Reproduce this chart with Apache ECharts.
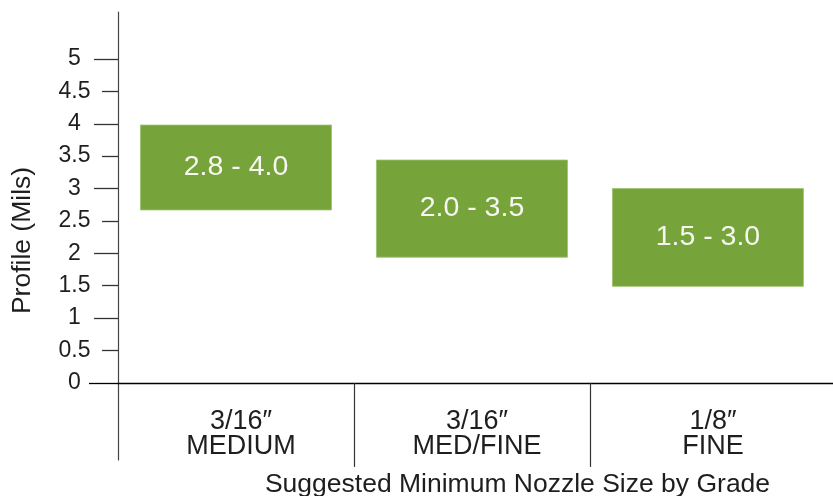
<!DOCTYPE html>
<html>
<head>
<meta charset="utf-8">
<script src="https://cdn.jsdelivr.net/npm/echarts@6/dist/echarts.min.js"></script>
<style>
html,body{margin:0;padding:0;background:#fff;}
#c{width:833px;height:496px;}
</style>
</head>
<body>
<div id="c"></div>
<script>
// ---- data ----
const categories = ['3/16\u2033\nMEDIUM', '3/16\u2033\nMED/FINE', '1/8\u2033\nFINE'];
const lowValues = [2.67, 1.94, 1.49];
const highValues = [3.98, 3.44, 3.0];
const rangeLabels = ['2.8 - 4.0', '2.0 - 3.5', '1.5 - 3.0'];
const yLabelValues = [0, 0.5, 1, 1.5, 2, 2.5, 3, 3.5, 4, 4.5, 5];
const yMajorTicks = [1, 2, 3, 4, 5];
const yMinorTicks = [0.5, 1.5, 2.5, 3.5, 4.5];
const yZeroTick = [0];
const yAxisName = 'Profile (Mils)';
const xAxisName = 'Suggested Minimum Nozzle Size by Grade';

// category centres / boundaries on the x scale
const catCenters = categories.map((c, i) => i + 0.5);
const catBounds = categories.slice(1).map((c, i) => i + 1);

const FONT = '"Liberation Sans", Arial, Helvetica, sans-serif';
const TXT = '#1e1e1e';
const Y_MIN = -1.19, Y_MAX = 5.725;
const BAR_W = 191;

const chart = echarts.init(document.getElementById('c'), null, {renderer: 'canvas'});
chart.setOption({
  animation: false,
  textStyle: {fontFamily: FONT},
  grid: {left: 118, right: 0, top: 12, bottom: 36, containLabel: false, outerBoundsMode: 'none'},
  xAxis: {
    type: 'value', min: 0, max: 3.03,
    splitLine: {show: false},
    axisLine: {show: true, onZero: true, lineStyle: {color: '#000', width: 1.3}},
    axisTick: {show: true, customValues: catBounds, length: 84, inside: false,
      lineStyle: {color: '#333', width: 1.2}},
    axisLabel: {show: true, customValues: catCenters,
      formatter: v => categories[Math.floor(v)],
      fontSize: 27, lineHeight: 25, color: TXT, fontFamily: FONT,
      margin: -51, padding: [0, 0, 0, 10], align: 'center'},
    name: xAxisName, nameLocation: 'middle', nameGap: 12, nameMoveOverlap: false,
    nameTextStyle: {fontSize: 26.5, color: TXT, fontFamily: FONT, padding: [0, 0, 0, 84], lineHeight: 26}
  },
  yAxis: [
    {
      type: 'value', position: 'left', min: Y_MIN, max: Y_MAX,
      splitLine: {show: false},
      axisLine: {show: true, lineStyle: {color: '#444', width: 1.2}},
      axisTick: {show: true, customValues: yMajorTicks, length: 24, lineStyle: {color: '#333', width: 1.3}},
      axisLabel: {show: true, customValues: yLabelValues, align: 'center', margin: 43.5,
        fontSize: 23, color: TXT, fontFamily: FONT},
      name: yAxisName, nameLocation: 'middle', nameGap: 82, nameRotate: 90, nameMoveOverlap: false,
      nameTextStyle: {fontSize: 26.5, color: TXT, fontFamily: FONT, padding: [0, 9, 0, 0]}
    },
    {
      type: 'value', position: 'left', offset: 0, min: Y_MIN, max: Y_MAX,
      splitLine: {show: false},
      axisLine: {show: false, onZero: false},
      axisTick: {show: true, customValues: yMinorTicks, length: 16, lineStyle: {color: '#333', width: 1.3}},
      axisLabel: {show: false}
    },
    {
      type: 'value', position: 'left', offset: 0, min: Y_MIN, max: Y_MAX,
      splitLine: {show: false},
      axisLine: {show: false, onZero: false},
      axisTick: {show: true, customValues: yZeroTick, length: 29, lineStyle: {color: '#000', width: 1.3}},
      axisLabel: {show: false}
    }
  ],
  series: [
    {
      type: 'custom', silent: true,
      encode: {x: 0, y: [1, 2]},
      data: catCenters.map((x, i) => [x, lowValues[i], highValues[i]]),
      renderItem: function (params, api) {
        const x = api.value(0);
        const top = api.coord([x, api.value(2)]);
        const bot = api.coord([x, api.value(1)]);
        return {
          type: 'rect',
          shape: {x: top[0] - BAR_W / 2, y: top[1], width: BAR_W, height: bot[1] - top[1]},
          style: {fill: '#77a43a', stroke: '#9cc06c', lineWidth: 0.8},
          textContent: {style: {text: rangeLabels[params.dataIndex], fill: '#f7f7f2',
            fontSize: 28.5, fontFamily: FONT}},
          textConfig: {position: 'inside'}
        };
      }
    }
  ]
});
</script>
</body>
</html>
